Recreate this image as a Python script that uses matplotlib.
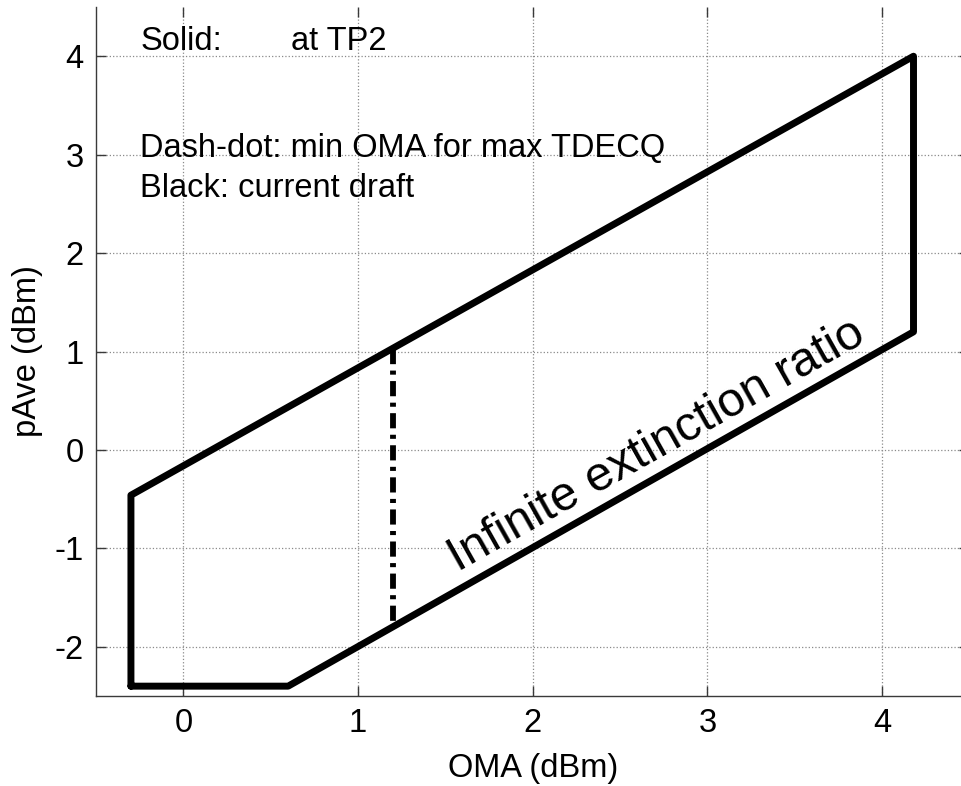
import matplotlib
matplotlib.use('Agg')
import matplotlib.pyplot as plt

plt.rcParams['font.family'] = ['Liberation Sans', 'DejaVu Sans']
plt.rcParams['axes.unicode_minus'] = False

# outline of the OMA / pAve region (solid, black)
oma_outline = [-0.3, -0.3, 4.18, 4.18, 0.6, -0.3]
pave_outline = [-2.4, -0.46, 4.0, 1.2, -2.4, -2.4]

# min OMA for max TDECQ (dash-dot)
oma_min = [1.2, 1.2]
pave_min = [1.03, -1.8]

xticks = [0, 1, 2, 3, 4]
yticks = [-2, -1, 0, 1, 2, 3, 4]

fs = 23.5

fig = plt.figure(figsize=(9.61, 7.86), dpi=100)
ax = fig.add_axes([96 / 961, 90 / 786, (969.4 - 96) / 961, (696 - 7) / 786])

ax.plot(oma_outline, pave_outline, color='black', lw=5,
        solid_joinstyle='round', solid_capstyle='round')
ax.plot(oma_min, pave_min, color='black', lw=4.2,
        dashes=(2.6, 1.1, 0.7, 1.1), dash_capstyle='butt')

ax.set_xlim(-0.5, 4.5)
ax.set_ylim(-2.5, 4.5)
ax.set_xticks(xticks)
ax.set_yticks(yticks)
ax.grid(True, color='#8a8a8a', linestyle=':', linewidth=0.9)

for s in ['top', 'right']:
    ax.spines[s].set_visible(False)
for s in ['left', 'bottom']:
    ax.spines[s].set_color('#3a3a3a')
    ax.spines[s].set_linewidth(1.0)

ax.tick_params(direction='in', length=7, width=1, color='#3a3a3a',
               labelsize=fs, top=True, right=True)
ax.tick_params(axis='x', pad=9)
ax.tick_params(axis='y', pad=9)

ax.set_xlabel('OMA (dBm)', fontsize=fs, labelpad=10)
ax.set_ylabel('pAve (dBm)', fontsize=fs, labelpad=8)

ax.text(-0.246, 4.06, 'Solid:', fontsize=fs, va='baseline')
ax.text(0.618, 4.06, 'at TP2', fontsize=fs, va='baseline')
ax.text(-0.246, 2.973, 'Dash-dot: min OMA for max TDECQ', fontsize=fs, va='baseline')
ax.text(-0.246, 2.566, 'Black: current draft', fontsize=fs, va='baseline')

ax.text(1.57, -1.24, 'Infinite extinction ratio', fontsize=35,
        rotation=45, transform_rotates_text=True, rotation_mode='anchor',
        ha='left', va='baseline')

fig.savefig('out.png', dpi=100)
